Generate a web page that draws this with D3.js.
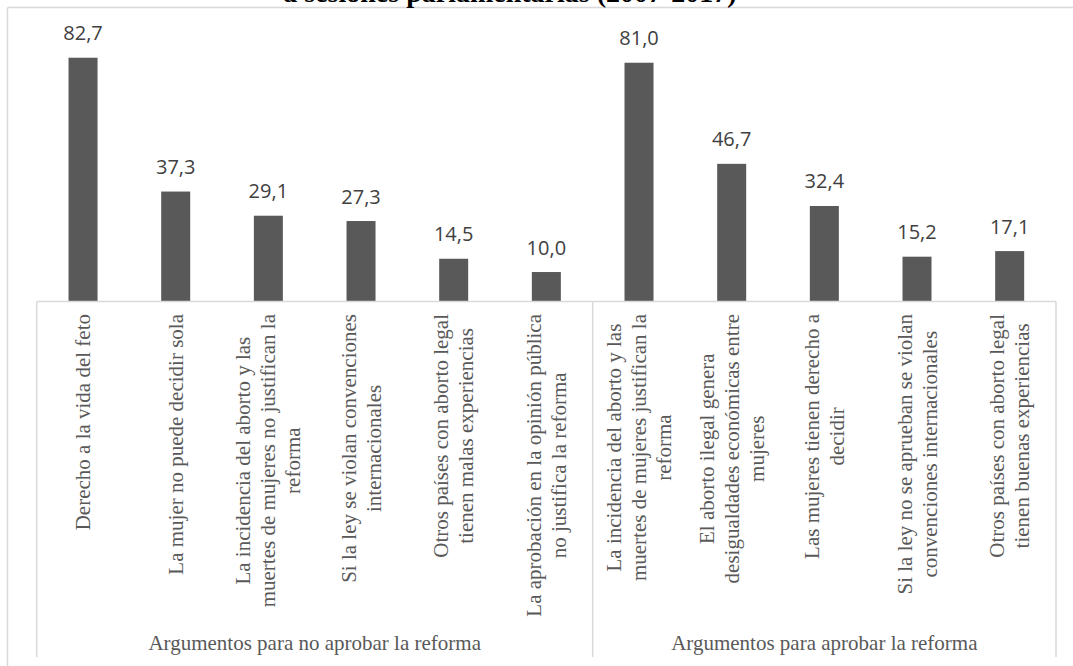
<!DOCTYPE html>
<html>
<head>
<meta charset="utf-8">
<script src="https://cdn.jsdelivr.net/npm/d3@7"></script>
<style>
    html, body { margin: 0; padding: 0; background: #ffffff; }
    #wrapper { width: 1073px; height: 666px; overflow: hidden; }
    .frame-line { stroke: #d9d9d9; stroke-width: 1.5; fill: none; }
    .axis-line { stroke: #d9d9d9; stroke-width: 1.5; fill: none; }
    .bar { fill: #595959; }
    .value-label { font-family: "Open Sans", sans-serif; font-size: 20px; fill: #404040; text-anchor: middle; }
    .category-label { font-family: "Liberation Serif", "Times New Roman", serif; font-size: 21px; fill: #595959; }
    .group-label { font-family: "Liberation Serif", "Times New Roman", serif; font-size: 21px; fill: #595959; text-anchor: middle; }
    .title { font-family: "Liberation Serif", "Times New Roman", serif; font-size: 28px; font-weight: bold; fill: #000000; text-anchor: middle; }
</style>
</head>
<body>
<div id="wrapper"></div>
<script>

// 1. Data

const titleText = "a sesiones parlamentarias (2007-2017)"

const groupNames = [
    "Argumentos para no aprobar la reforma",
    "Argumentos para aprobar la reforma",
]

// each label is split in the lines it shows on the chart
const categoryLabels = [
    ["Derecho a la vida del feto"],
    ["La mujer no puede decidir sola"],
    ["La incidencia del aborto y las", "muertes de mujeres no justifican la", "reforma"],
    ["Si la ley se violan convenciones", "internacionales"],
    ["Otros países con aborto legal", "tienen malas experiencias"],
    ["La aprobación en la opinión pública", "no justifica la reforma"],
    ["La incidencia del aborto y las", "muertes de mujeres justifican la", "reforma"],
    ["El aborto ilegal genera", "desigualdades económicas entre", "mujeres"],
    ["Las mujeres tienen derecho a", "decidir"],
    ["Si la ley no se aprueban se violan", "convenciones internacionales"],
    ["Otros países con aborto legal", "tienen buenas experiencias"],
]

const categoryGroups = [0, 0, 0, 0, 0, 0, 1, 1, 1, 1, 1]

const values = [82.7, 37.3, 29.1, 27.3, 14.5, 10.0, 81.0, 46.7, 32.4, 15.2, 17.1]

function drawChart() {

    const locale = d3.formatLocale({decimal: ",", thousands: ".", grouping: [3], currency: ["", "€"]})
    const formatValue = locale.format(".1f")

    const dataset = values.map((v, i) => ({
        id: i,
        value: v,
        lines: categoryLabels[i],
        group: categoryGroups[i],
    }))

    // 2. Dimensions

    let dimensions = {
        width: 1073,
        height: 666,
        frameLeft: 7.5,
        frameTop: 7.5,
        plotLeft: 36.7,
        plotRight: 1056,
        baseline: 301.5,
        top: 36.2,
        axisBottom: 657,
    }

    // 3. Canvas

    const wrapper = d3.select("#wrapper")
        .append("svg")
        .attr("width", dimensions.width)
        .attr("height", dimensions.height)

    const bounds = wrapper.append("g")

    // 4. Scales

    const xScale = d3.scaleBand()
        .domain(dataset.map(d => d.id))
        .range([dimensions.plotLeft, dimensions.plotRight])
        .paddingInner(0.687)
        .paddingOuter(0.3435)

    const yScale = d3.scaleLinear()
        .domain([0, 90])
        .range([dimensions.baseline, dimensions.top])

    const step = xScale.step()
    const centerX = d => xScale(d.id) + xScale.bandwidth() / 2

    // 5. Frame and title

    bounds.append("line")
        .attr("class", "frame-line")
        .attr("x1", dimensions.frameLeft).attr("x2", dimensions.frameLeft)
        .attr("y1", dimensions.frameTop).attr("y2", dimensions.height)

    bounds.append("line")
        .attr("class", "frame-line")
        .attr("x1", dimensions.frameLeft).attr("x2", dimensions.width)
        .attr("y1", dimensions.frameTop).attr("y2", dimensions.frameTop)

    bounds.append("text")
        .attr("class", "title")
        .attr("x", 510)
        .attr("y", 2)
        .text(titleText)

    // 6. Bars and value labels

    bounds.selectAll(".bar")
        .data(dataset)
        .join("rect")
        .attr("class", "bar")
        .attr("x", d => xScale(d.id))
        .attr("width", xScale.bandwidth())
        .attr("y", d => yScale(d.value))
        .attr("height", d => yScale(0) - yScale(d.value))

    bounds.selectAll(".value-label")
        .data(dataset)
        .join("text")
        .attr("class", "value-label")
        .attr("x", centerX)
        .attr("y", d => yScale(d.value) - 17.5)
        .text(d => formatValue(d.value))

    // 7. Multi-level category axis

    const axisGroup = bounds.append("g")

    axisGroup.append("line")
        .attr("class", "axis-line")
        .attr("x1", dimensions.plotLeft).attr("x2", dimensions.plotRight)
        .attr("y1", dimensions.baseline).attr("y2", dimensions.baseline)

    // group boundaries: start of the first group and end of every group
    const groupExtents = groupNames.map((name, g) => {
        const members = dataset.filter(d => d.group === g)
        const x0 = xScale(members[0].id) - (step - xScale.bandwidth()) / 2
        const x1 = x0 + members.length * step
        return {name, x0, x1}
    })
    const boundaries = [groupExtents[0].x0, ...groupExtents.map(g => g.x1)]

    axisGroup.selectAll(".divider")
        .data(boundaries)
        .join("line")
        .attr("class", "axis-line divider")
        .attr("x1", d => d).attr("x2", d => d)
        .attr("y1", dimensions.baseline).attr("y2", dimensions.axisBottom)

    axisGroup.selectAll(".group-label")
        .data(groupExtents)
        .join("text")
        .attr("class", "group-label")
        .attr("x", d => (d.x0 + d.x1) / 2)
        .attr("y", 650)
        .text(d => d.name)

    const lineHeight = 25
    const labelTop = 314

    const categoryGroupsSel = axisGroup.selectAll(".category")
        .data(dataset)
        .join("g")
        .attr("class", "category")
        .attr("transform", d => `translate(${centerX(d)},${labelTop}) rotate(-90)`)

    categoryGroupsSel.each(function(d) {
        const g = d3.select(this)
        const n = d.lines.length
        const texts = g.selectAll("text")
            .data(d.lines)
            .join("text")
            .attr("class", "category-label")
            .attr("text-anchor", "middle")
            .attr("y", (line, i) => (i - (n - 1) / 2) * lineHeight + 7)
            .text(line => line)
        // longest line sets the block, others are centred on it
        let maxLen = 0
        texts.each(function() {
            maxLen = Math.max(maxLen, this.getComputedTextLength())
        })
        texts.attr("x", -maxLen / 2)
    })
}

drawChart()
</script>
</body>
</html>
